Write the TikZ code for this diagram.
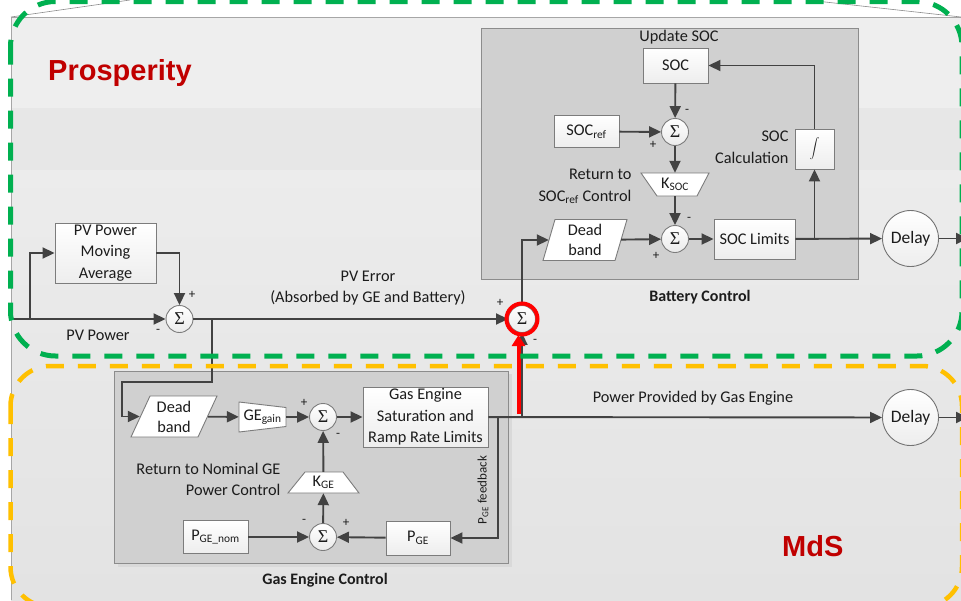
\documentclass[tikz,border=0pt]{standalone}
\usepackage{fontspec}
\setmainfont{Carlito}
\newfontfamily\arialf{Liberation Sans}
\newfontfamily\serf{Liberation Serif}
\usetikzlibrary{arrows.meta}
\definecolor{ln}{HTML}{424242}
\definecolor{bd}{HTML}{7c7c7c}
\definecolor{txt}{HTML}{1c1c1c}
\definecolor{grn}{HTML}{00B050}
\definecolor{ylw}{HTML}{FFC000}
\definecolor{redt}{HTML}{C00000}
\definecolor{panel}{HTML}{D0D0D0}
\newcommand{\sbt}[1]{\textsubscript{#1}}
\newcommand{\sig}{{\serf\fontsize{18}{18}\selectfont Σ}}
\tikzset{
  every node/.style={text=txt, font=\fontsize{16.3}{21.5}\selectfont},
  blk/.style={draw=bd, line width=0.9pt, top color=white, bottom color=black!7, align=center, inner sep=0pt},
  sumc/.style={circle, draw=bd, line width=0.9pt, top color=white, bottom color=black!8, minimum size=27pt, inner sep=0pt},
  delayc/.style={circle, draw=black!55, line width=0.9pt, top color=white, bottom color=black!7, minimum size=56pt, inner sep=0pt, font=\fontsize{17.5}{18}\selectfont},
  ghost/.style={inner sep=0pt, align=center},
  shp/.style={draw=bd, line width=0.9pt, fill=white},
  conn/.style={draw=ln, line width=1.9pt, -{Triangle[length=12pt,width=11pt]}},
  sgn/.style={font=\fontsize{13}{13}\selectfont, inner sep=0pt},
  panelbox/.style={draw=black!45, line width=0.9pt, fill=panel},
  ttl/.style={font=\fontsize{16}{18}\selectfont\bfseries},
  big/.style={font=\arialf\fontsize{29}{30}\selectfont\bfseries, text=redt, inner sep=0pt},
}
\begin{document}
\begin{tikzpicture}[x=1pt,y=-1pt]
\useasboundingbox (0,0) rectangle (961,600);
\clip (0,0) rectangle (961,600);
% background
\fill[white] (0,0) rectangle (961,600);
\fill[black!6.5] (11,17) rectangle (961,108);
\fill[black!9.5] (11,108) rectangle (961,170);
\shade[top color=black!7.5, bottom color=black!11] (11,170) rectangle (961,600);
\draw[black!35, line width=0.8pt] (11,600) -- (11,17) -- (961,17);
\draw[black!45, line width=0.6pt] (11,17) -- (130,0);
\draw[black!45, line width=0.6pt] (807,0) -- (943,15) -- (961,17);
% panels
\fill[black!15] (118,374) rectangle (512,567);
\draw[panelbox] (114,371) rectangle (508,563);
\draw[panelbox] (481,28) rectangle (858,279);
\node[ttl] (battl) at (700,297) {Battery Control};
\node[ttl] (getl) at (325,580) {Gas Engine Control};
% ---- Battery control ----
\node (upd) at (679,37) {Update SOC};
\node[blk, minimum width=65pt, minimum height=35pt] (soc) at (675.5,65.5) {SOC};
\node[sumc] (s1) at (675,132) {\sig};
\node[blk, minimum width=65pt, minimum height=32pt] (socref) at (586.5,131.5) {SOC\sbt{ref}};
\draw[shp] (641,173) -- (709,173) -- (697,196) -- (657,196) -- cycle;
\node[ghost, minimum width=52pt, minimum height=23pt] (ksoc) at (675,184.5) {K\sbt{SOC}};
\node[anchor=east, align=right] (ret1) at (635,186.5) {Return to\\SOC\sbt{ref} Control};
\node[sumc] (s2) at (675,239) {\sig};
\draw[shp] (543,260.5) -- (555,219.5) -- (627,219.5) -- (615,260.5) -- cycle;
\node[ghost, minimum width=72pt, minimum height=41pt, font=\fontsize{16.3}{20}\selectfont] (db1) at (585,240) {Dead\\band};
\node[blk, minimum width=81pt, minimum height=40pt] (soclim) at (754.5,239) {SOC Limits};
\node[blk, minimum width=39pt, minimum height=40pt] (integ) at (814.5,149) {\fontsize{17}{17}\selectfont$\displaystyle\int$};
\node[anchor=east, align=right] (calc) at (792,147.5) {SOC\\Calculation};
\node[delayc] (dl1) at (910.5,238.5) {Delay};
\node[sgn] at (687,111) {-};
\node[sgn] at (653,145) {+};
\node[sgn] at (689,219) {-};
\node[sgn] at (656,256) {+};
\draw[conn] (soc) -- (s1);
\draw[conn] (socref) -- (s1);
\draw[conn] (s1) -- (ksoc);
\draw[conn] (ksoc) -- (s2);
\draw[conn] (db1) -- (s2);
\draw[conn] (s2) -- (soclim);
\draw[conn] (soclim) -- (dl1);
\coordinate (br1) at (814.5,239);
\draw[conn] (br1) -- (integ);
\draw[conn] (integ.north) |- (soc.east);
\coordinate (out1) at (968,238.5);
\draw[conn] (dl1) -- (out1);
% ---- PV part ----
\node[blk, minimum width=101pt, minimum height=60pt] (pvbox) at (105.5,253) {PV Power\\Moving\\Average};
\node[sumc] (s3) at (179.5,319) {\sig};
\node[sumc] (s4) at (522,319) {\sig};
\coordinate (pvin) at (11,319);
\coordinate (br2) at (30,319);
\draw[conn] (pvin) -- (s3);
\draw[conn] (br2) |- (pvbox.west);
\draw[conn] (pvbox.east) -| (s3.north);
\draw[conn] (s3) -- (s4);
\draw[conn] (s4.north) |- (db1.west);
\node (pvp) at (98,335) {PV Power};
\node[align=center] (pverr) at (368,288) {PV Error\\(Absorbed by GE and Battery)};
\node[sgn] at (192,295) {+};
\node[sgn] at (158,331) {-};
\node[sgn] at (500,303) {+};
\node[sgn] at (535,341) {-};
% ---- Gas engine control ----
\draw[shp] (131,437) -- (150,396) -- (217,396) -- (198,437) -- cycle;
\node[ghost, minimum width=68pt, minimum height=41pt, font=\fontsize{16.3}{20}\selectfont] (db2) at (174,416.5) {Dead\\band};
\draw[shp] (239,402) -- (286,407.5) -- (286,426.5) -- (239,432) -- cycle;
\node[ghost, minimum width=47pt, minimum height=30pt] (gain) at (262.5,417) {GE\sbt{gain}};
\node[sumc] (s5) at (323,417) {\sig};
\node[blk, minimum width=125pt, minimum height=60pt] (gesat) at (425.5,417) {Gas Engine\\Saturation and\\Ramp Rate Limits};
\node[delayc] (dl2) at (910.5,417.5) {Delay};
\node[blk, minimum width=64pt, minimum height=34pt] (pge) at (418,538) {P\sbt{GE}};
\node[sumc] (s6) at (323,537) {\sig};
\node[blk, minimum width=65pt, minimum height=33pt] (pgenom) at (215.5,537) {P\sbt{GE\_nom}};
\draw[shp] (305,472) -- (343,472) -- (359,493) -- (288,493) -- cycle;
\node[ghost, minimum width=54pt, minimum height=21pt] (kge) at (323.5,482.5) {K\sbt{GE}};
\node[anchor=east, align=right] (ret2) at (284,479.5) {Return to Nominal GE\\Power Control};
\node[rotate=90, font=\fontsize{13}{13}\selectfont] (fbl) at (483,490) {P\sbt{GE} feedback};
\node (ppg) at (693,398) {Power Provided by Gas Engine};
\node[sgn] at (304,403) {+};
\node[sgn] at (338,435) {-};
\node[sgn] at (304,521) {-};
\node[sgn] at (346,523) {+};
\coordinate (br3) at (212,319);
\coordinate (k1) at (212,382);
\coordinate (k2) at (122,382);
\draw[conn] (br3) -- (k1) -- (k2) |- (db2.west);
\draw[conn] (db2) -- (gain);
\draw[conn] (gain) -- (s5);
\draw[conn] (s5) -- (gesat);
\draw[conn] (gesat) -- (dl2);
\coordinate (out2) at (968,417.5);
\draw[conn] (dl2) -- (out2);
\coordinate (br4) at (498,417);
\draw[conn] (br4) |- (pge.east);
\draw[conn] (pge) -- (s6);
\draw[conn] (pgenom) -- (s6);
\draw[conn] (s6) -- (kge);
\draw[conn] (kge) -- (s5);
\coordinate (br5) at (522,417);
\draw[conn] (br5) -- (s4);
% red highlight
\draw[red, line width=4pt] (s4) circle[radius=15.5pt];
\coordinate (rs) at (518.5,414);
\coordinate (re) at (518.5,335);
\draw[red, line width=4pt, -{Triangle[length=11pt,width=13pt]}] (rs) -- (re);
% region labels
\node[big, anchor=base west] (prosp) at (48,80) {Prosperity};
\node[big, anchor=base west] (mds) at (782,556) {MdS};
% dashed regions
\draw[grn, line width=5pt, dash pattern=on 18pt off 14pt, rounded corners=45pt] (10.5,1.5) rectangle (962,356);
\draw[ylw, line width=4.5pt, dash pattern=on 18pt off 14pt, rounded corners=40pt] (10.5,366) rectangle (962,607);
\end{tikzpicture}
\end{document}
